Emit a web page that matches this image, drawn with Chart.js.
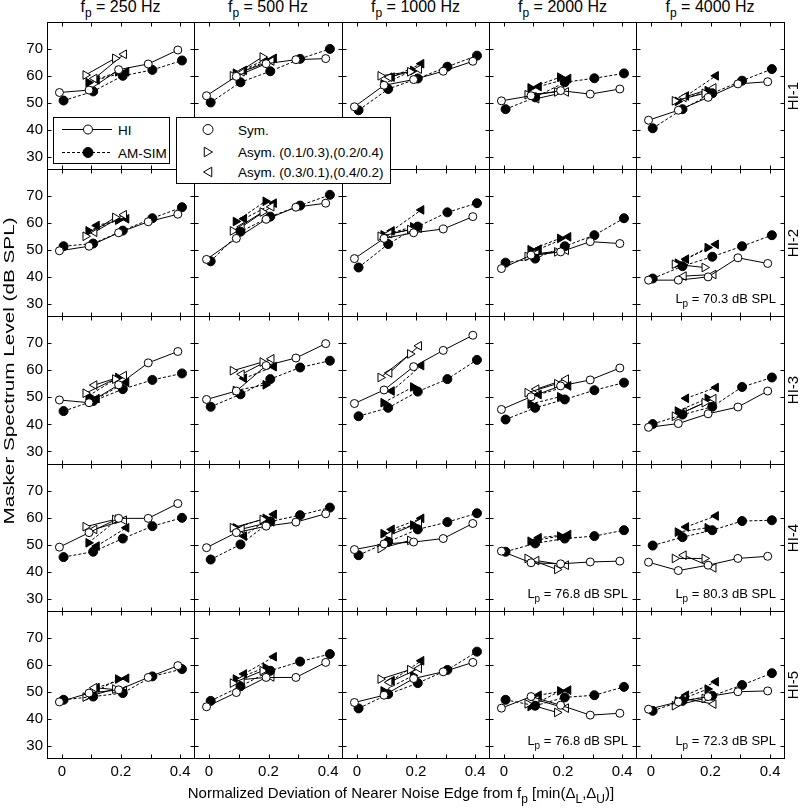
<!DOCTYPE html>
<html>
<head>
<meta charset="utf-8">
<script src="https://cdn.jsdelivr.net/npm/chart.js@4/dist/chart.umd.min.js"></script>
<style>
  body { margin: 0; background: #fff; font-family: "Liberation Sans", Arial, sans-serif; color: #000; }
  #wrap { position: relative; width: 800px; height: 810px; overflow: hidden; }
  #wrap canvas { position: absolute; }
  .txt { position: absolute; white-space: nowrap; line-height: 16px; }
  .sub { position: relative; top: 5px; font-size: 12px; }
  #legend { position: absolute; left: 0; top: 0; }
</style>
</head>
<body>
<div id="wrap"></div>
<script>
// panel layout: rows = listeners, columns = probe frequency
const freqs = ['250', '500', '1000', '2000', '4000'];
const subjects = ['HI-1', 'HI-2', 'HI-3', 'HI-4', 'HI-5'];
const symX = [0, 0.1, 0.2, 0.3, 0.4];
const asymX = [0.1, 0.2];
const xLabelVals = [0, 0.2, 0.4];
const xTickVals = [0, 0.1, 0.2, 0.3, 0.4];
const yTickVals = [30, 40, 50, 60, 70];

// symmetric notch, HI listeners (open circles) [row][col][5]
const hiSym = [
  [[53.8, 54.7, 62.3, 64.4, 69.6], [52.6, 59.8, 64.5, 66, 66.4], [48.5, 56.5, 58.6, 61.7, 65.4], [50.7, 52.6, 54.5, 53.2, 55.1], [43.5, 47.2, 52, 57, 57.8]],
  [[49.6, 51.3, 56.3, 60.4, 63.2], [46.4, 54.2, 61.3, 65.8, 67.3], [46.7, 54.2, 56.3, 57.7, 62.3], [43, 48, 49.2, 53, 52.3], [38.7, 38.7, 39.9, 47, 44.9]],
  [[49, 48, 54.6, 62.7, 66.9], [49.2, 52.3, 61.7, 64.5, 69.8], [47.7, 52.7, 61.3, 67.3, 72.9], [45.5, 50.2, 54.2, 56.4, 60.8], [38.9, 40.3, 43.9, 46.4, 52.3]],
  [[49.1, 54.5, 59.8, 59.8, 65.3], [48.9, 54.5, 56.9, 58.4, 61.5], [48.2, 50.3, 51, 52.3, 57.9], [47.6, 43.3, 42.9, 43.6, 43.9], [43.5, 40.4, 42.4, 44.9, 45.7]],
  [[46.2, 49.5, 50.7, 55.3, 59.7], [44.4, 49.7, 55.3, 55.3, 60.9], [46, 48.7, 54.9, 57.4, 60.9], [43.9, 48.2, 45, 41.3, 42], [43.5, 46.2, 48.2, 50, 50.3]]
];
// symmetric notch, AM-SIM (filled circles)
const amSym = [
  [[50.8, 54.2, 60, 62.2, 65.7], [50.1, 57.6, 61.7, 66.3, 70], [47.2, 55.1, 59, 63.4, 67.5], [47.6, 52, 57.6, 59.1, 60.9], [40.5, 47.6, 53.5, 58.2, 62.5]],
  [[51.3, 52.3, 57.1, 61.7, 65.8], [45.7, 56.7, 62.3, 66.4, 70.4], [43.4, 52.1, 58.6, 63.9, 67.3], [45.2, 46.7, 51.3, 55.4, 61.7], [39.3, 43.9, 47.4, 51.3, 55.4]],
  [[44.9, 48.6, 53, 56.4, 58.8], [46.5, 51.1, 56.7, 61, 63.5], [43, 46.1, 52.1, 56.7, 63.8], [41.8, 46.1, 49.2, 52.6, 55.4], [40.1, 43.6, 46.5, 53.8, 57.3]],
  [[45.4, 47.4, 52.3, 56.9, 60], [44.5, 50.1, 58.6, 61, 63.8], [46.1, 51.1, 55.7, 58.4, 61.7], [47.4, 50.5, 52.3, 53.2, 55.4], [49.7, 52.8, 55.4, 58.8, 59.1]],
  [[47, 48.2, 49.5, 55.7, 58.4], [46.6, 52, 57.8, 61.2, 64], [43.8, 49.1, 53.2, 58.1, 64.9], [47, 44.8, 47.9, 48.7, 51.8], [42.9, 46.6, 48.5, 52.5, 56.9]]
];
// asymmetric (0.1/0.3),(0.2/0.4): right-pointing triangles
const hiRight = [
  [[60.3, 66.5], [60, 67], [60, 61.5], [53, 54], [50.7, 53.5]],
  [[55, 62], [57, 64], [55, 57.5], [47.5, 49.2], [44.6, 43.4]],
  [[51.5, 56.7], [59.8, 63], [57.3, 66], [51.7, 55], [43, 48]],
  [[56.7, 59.4], [56.3, 59.4], [48.6, 51.6], [44.9, 40.8], [44.9, 44.9]],
  [[48, 51], [53.2, 57.8], [54.7, 58.2], [45.5, 42.3], [44.8, 47.5]]
];
const amRight = [
  [[57.5, 61.5], [61, 66], [57, 62], [55.5, 59.5], [50.5, 54.5]],
  [[57, 61], [60.5, 68], [55.5, 58.5], [50, 54.2], [45, 50.8]],
  [[50.5, 57.3], [52.5, 54.6], [48, 53.8], [47.5, 50.2], [44.9, 49.6]],
  [[50.7, 59.5], [56.3, 59.8], [54.1, 57.3], [51.3, 53.2], [54.7, 56.3]],
  [[48.5, 54.7], [54.7, 59], [50.3, 56], [44.5, 50.3], [46.6, 51]]
];
// asymmetric (0.3/0.1),(0.4/0.2): left-pointing triangles
const hiLeft = [
  [[59, 68], [61.5, 65.5], [59.5, 62.5], [51.5, 54], [52, 55.5]],
  [[56.5, 63], [58.5, 66], [56, 58], [48.5, 49.8], [40.2, 40.8]],
  [[54.5, 58], [58.5, 64.2], [59, 69], [53, 56.7], [44.5, 49.5]],
  [[55.7, 59.1], [55.8, 58.5], [53.5, 58.2], [44.1, 42.4], [46.1, 41.4]],
  [[51.5, 50.5], [54.5, 55.5], [53.5, 58.7], [47, 43.9], [47.5, 45.4]]
];
const amLeft = [
  [[58.5, 61.5], [62, 66.5], [59.5, 64.5], [56, 59], [52.5, 60]],
  [[59, 61.5], [61.5, 67.3], [57, 64.8], [50.2, 54.8], [46.5, 52]],
  [[49.5, 55.5], [57, 61.3], [52.3, 61.7], [51, 54.2], [49.6, 53.6]],
  [[49.5, 56.3], [53.2, 61.3], [55.7, 59.8], [52.6, 53.8], [56.6, 60.7]],
  [[51.5, 55], [56.6, 63], [54.1, 61.5], [48.7, 50.6], [48.7, 53.7]]
];
// probe level notes (dB SPL), '' where none
const lpNotes = [
  ['', '', '', '', ''],
  ['', '', '', '', '70.3'],
  ['', '', '', '', ''],
  ['', '', '', '76.8', '80.3'],
  ['', '', '', '76.8', '72.3']
];

Chart.defaults.font.family = '"Liberation Sans", Arial, sans-serif';
Chart.defaults.color = '#000';

const L0 = 47, T0 = 22, PW = 147.3, PH = 147.2, XAXH = 40, TK = 4;
const colX = i => Math.round(L0 + i * PW);
const rowY = i => Math.round(T0 + i * PH);
const wrap = document.getElementById('wrap');

// small horizontal jitter the original uses to separate the series
const STYLES = {
  hiSym:   { shift: -0.008, shape: 'circle',   rot: 0,   r: 4,   fill: '#fff', dash: [] },
  amSym:   { shift: 0.006,  shape: 'circle',   rot: 0,   r: 4.5, fill: '#000', dash: [3, 2] },
  hiRight: { shift: -0.02,  shape: 'triangle', rot: 90,  r: 5,   fill: '#fff', dash: [] },
  amRight: { shift: -0.01,  shape: 'triangle', rot: 90,  r: 5,   fill: '#000', dash: [3, 2] },
  hiLeft:  { shift: 0.01,   shape: 'triangle', rot: -90, r: 5,   fill: '#fff', dash: [] },
  amLeft:  { shift: 0.018,  shape: 'triangle', rot: -90, r: 5,   fill: '#000', dash: [3, 2] }
};

function ds(kind, xs, ys) {
  const st = STYLES[kind];
  return {
    label: kind,
    data: ys.map((v, i) => ({ x: xs[i] + st.shift, y: v })),
    showLine: true,
    borderColor: '#000',
    borderWidth: 1,
    borderDash: st.dash,
    pointStyle: st.shape,
    pointRotation: st.rot,
    pointRadius: st.r,
    pointBackgroundColor: st.fill,
    pointBorderColor: '#000',
    pointBorderWidth: 1,
    clip: false
  };
}

const framePlugin = {
  id: 'frame',
  afterDatasetsDraw(chart) {
    const { ctx, chartArea: a, scales } = chart;
    const L = Math.round(a.left) + 0.5, R = Math.round(a.right) - 0.5;
    const T = Math.round(a.top) + 0.5, B = Math.round(a.bottom) - 0.5;
    ctx.save();
    ctx.strokeStyle = '#000';
    ctx.lineWidth = 1;
    ctx.setLineDash([]);
    ctx.strokeRect(L, T, R - L, B - T);
    ctx.beginPath();
    yTickVals.forEach(v => {
      const p = Math.round(scales.y.getPixelForValue(v)) + 0.5;
      ctx.moveTo(L, p); ctx.lineTo(L + TK, p);
      ctx.moveTo(R, p); ctx.lineTo(R - TK, p);
    });
    xTickVals.forEach(v => {
      const p = Math.round(scales.x.getPixelForValue(v)) + 0.5;
      ctx.moveTo(p, T); ctx.lineTo(p, T + TK);
      ctx.moveTo(p, B); ctx.lineTo(p, B - TK);
    });
    ctx.stroke();
    ctx.restore();
  }
};

// keep every panel the same size: no label overflow padding
function noPad(s) {
  s.paddingTop = 0; s.paddingBottom = 0; s.paddingLeft = 0; s.paddingRight = 0;
}

function addText(html, css) {
  const d = document.createElement('div');
  d.className = 'txt';
  d.innerHTML = html;
  Object.assign(d.style, css);
  wrap.appendChild(d);
  return d;
}

for (let r = 0; r < 5; r++) {
  for (let c = 0; c < 5; c++) {
    const isLeft = c === 0, isBottom = r === 4;
    const left = isLeft ? 0 : colX(c);
    const top = rowY(r);
    const w = colX(c + 1) - left + 1;
    const h = rowY(r + 1) - top + 1 + (isBottom ? XAXH : 0);
    const cv = document.createElement('canvas');
    cv.width = w; cv.height = h;
    cv.style.left = left + 'px'; cv.style.top = top + 'px';
    wrap.appendChild(cv);

    new Chart(cv.getContext('2d'), {
      type: 'scatter',
      data: {
        datasets: [
          ds('hiSym', symX, hiSym[r][c]),
          ds('amSym', symX, amSym[r][c]),
          ds('hiRight', asymX, hiRight[r][c]),
          ds('hiLeft', asymX, hiLeft[r][c]),
          ds('amRight', asymX, amRight[r][c]),
          ds('amLeft', asymX, amLeft[r][c])
        ]
      },
      options: {
        responsive: false,
        animation: false,
        devicePixelRatio: 1,
        events: [],
        layout: { padding: 0, autoPadding: false },
        plugins: { legend: { display: false }, tooltip: { enabled: false } },
        scales: {
          x: {
            type: 'linear', min: -0.05, max: 0.45, display: isBottom,
            grid: { display: false, drawTicks: false }, border: { display: false },
            ticks: { font: { size: 15 }, padding: 4, maxRotation: 0, callback: v => String(v) },
            afterBuildTicks: s => { s.ticks = xLabelVals.map(v => ({ value: v })); },
            afterFit: s => { noPad(s); if (isBottom) s.height = XAXH; }
          },
          y: {
            type: 'linear', min: 25, max: 80, display: isLeft,
            grid: { display: false, drawTicks: false }, border: { display: false },
            ticks: { font: { size: 15 }, padding: 4, callback: v => String(v) },
            afterBuildTicks: s => { s.ticks = yTickVals.map(v => ({ value: v })); },
            afterFit: s => { noPad(s); if (isLeft) s.width = L0; }
          }
        }
      },
      plugins: [framePlugin]
    });

    if (lpNotes[r][c]) {
      addText('L<span class="sub" style="font-size:10px;top:4px">p</span> = ' + lpNotes[r][c] + ' dB SPL', {
        fontSize: '13px', right: (800 - colX(c + 1) + 8) + 'px', top: (rowY(r + 1) - 25) + 'px'
      });
    }
  }
}

// column titles
freqs.forEach((f, c) => {
  const cx = (colX(c) + colX(c + 1)) / 2;
  addText('f<span class="sub">p</span> = ' + f + ' Hz', {
    fontSize: '16px', left: (cx - 100) + 'px', width: '200px', textAlign: 'center', top: '-1px'
  });
});

// row labels on the right
subjects.forEach((s, r) => {
  const cy = (rowY(r) + rowY(r + 1)) / 2;
  addText(s, {
    fontSize: '15px', left: (793 - 40) + 'px', width: '80px', textAlign: 'center',
    top: (cy - 8) + 'px', transform: 'rotate(-90deg)'
  });
});

// axis titles
addText('Masker Spectrum Level (dB SPL)', {
  fontSize: '15px', left: (9 - 150) + 'px', width: '300px', textAlign: 'center',
  top: (371 - 8) + 'px', transform: 'rotate(-90deg) scaleX(1.38)'
});
addText('Normalized Deviation of Nearer Noise Edge from f<span class="sub">p</span> [min(&Delta;<span class="sub">L</span>,&Delta;<span class="sub">U</span>)]', {
  fontSize: '15px', left: (401 - 300) + 'px', width: '600px', textAlign: 'center', top: '785px'
});

// legends (drawn on top of the panels)
const tri = (x, y, dir, s) => dir > 0
  ? `${x - s * 0.5},${y - s * 0.87} ${x + s},${y} ${x - s * 0.5},${y + s * 0.87}`
  : `${x + s * 0.5},${y - s * 0.87} ${x - s},${y} ${x + s * 0.5},${y + s * 0.87}`;
const svg = `
<svg id="legend" width="800" height="810" xmlns="http://www.w3.org/2000/svg"
     font-family="Liberation Sans, Arial, sans-serif" font-size="13.5">
  <rect x="53.5" y="117.5" width="116" height="46" fill="#fff" stroke="#000"/>
  <line x1="62" y1="129.5" x2="112" y2="129.5" stroke="#000"/>
  <circle cx="88" cy="129.5" r="4.5" fill="#fff" stroke="#000"/>
  <text x="118" y="134.5">HI</text>
  <line x1="62" y1="152.5" x2="112" y2="152.5" stroke="#000" stroke-dasharray="3,2"/>
  <circle cx="88" cy="152.5" r="5" fill="#000" stroke="#000"/>
  <text x="118" y="157.5">AM-SIM</text>
  <rect x="176.5" y="117.5" width="214" height="66" fill="#fff" stroke="#000"/>
  <circle cx="208" cy="129.5" r="5" fill="#fff" stroke="#000"/>
  <text x="238" y="134.5">Sym.</text>
  <polygon points="${tri(207, 152, 1, 5.5)}" fill="#fff" stroke="#000"/>
  <text x="238" y="157">Asym. (0.1/0.3),(0.2/0.4)</text>
  <polygon points="${tri(209, 172, -1, 5.5)}" fill="#fff" stroke="#000"/>
  <text x="238" y="177">Asym. (0.3/0.1),(0.4/0.2)</text>
</svg>`;
wrap.insertAdjacentHTML('beforeend', svg);
</script>
</body>
</html>
